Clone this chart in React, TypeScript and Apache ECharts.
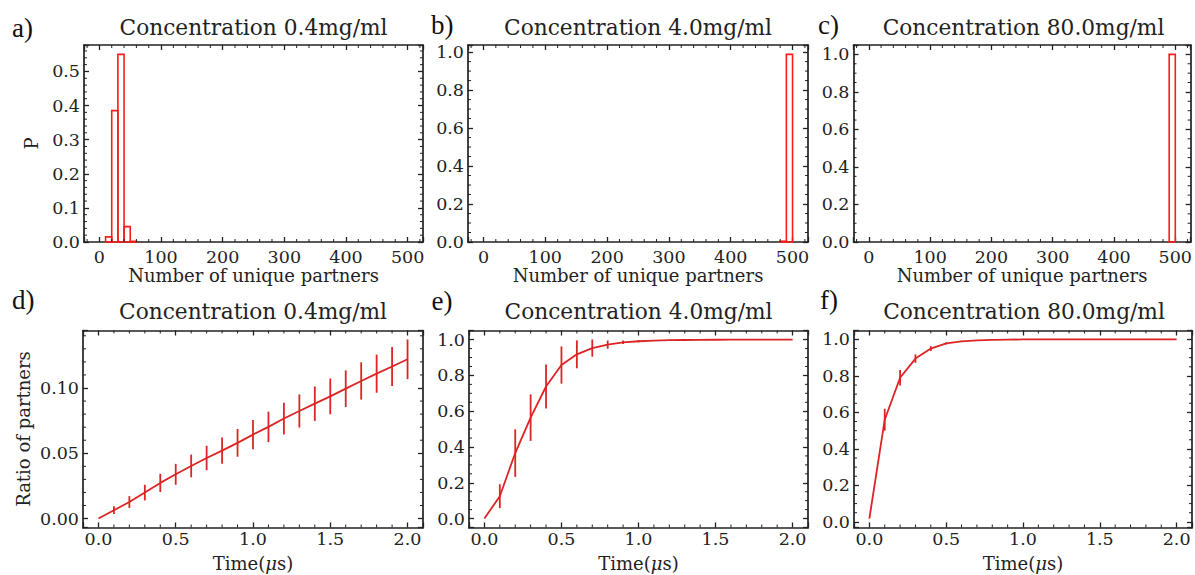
import React, { useEffect, useRef } from "react";
import * as echarts from "echarts";

// ---------- data ----------
const BIN_WIDTH = 10;
const HIST_LEFT_A = [10, 20, 30, 40, 50];
const HIST_P_A = [0.015, 0.385, 0.55, 0.045, 0.002];
const HIST_LEFT_B = [480, 490];
const HIST_P_B = [0.004, 0.988];
const HIST_LEFT_C = [490];
const HIST_P_C = [1.0];

const TIME = [0, 0.1, 0.2, 0.3, 0.4, 0.5, 0.6, 0.7, 0.8, 0.9, 1.0, 1.1, 1.2, 1.3, 1.4, 1.5, 1.6, 1.7, 1.8, 1.9, 2.0];
const RATIO_D = [0, 0.0064, 0.0127, 0.0199, 0.0273, 0.0339, 0.0403, 0.0464, 0.052, 0.058, 0.0643, 0.0702, 0.0766, 0.0824, 0.088, 0.0936, 0.0995, 0.1054, 0.111, 0.1165, 0.122];
const ERR_D = [0, 0.003, 0.0045, 0.006, 0.007, 0.008, 0.0087, 0.0094, 0.01, 0.0106, 0.0112, 0.0117, 0.0122, 0.0127, 0.0132, 0.0137, 0.014, 0.0143, 0.0146, 0.0149, 0.0152];
const RATIO_E = [0, 0.125, 0.366, 0.564, 0.738, 0.858, 0.918, 0.953, 0.972, 0.985, 0.991, 0.995, 0.997, 0.998, 0.999, 0.9993, 0.9996, 0.9998, 0.9999, 1.0, 1.0];
const ERR_E = [0, 0.067, 0.133, 0.13, 0.123, 0.104, 0.078, 0.048, 0.023, 0.01, 0.006, 0.003, 0.002, 0.001, 0.001, 0, 0, 0, 0, 0, 0];
const RATIO_F = [0.018, 0.56, 0.79, 0.895, 0.95, 0.978, 0.99, 0.995, 0.998, 0.999, 1.0, 1.0, 1.0, 1.0, 1.0, 1.0, 1.0, 1.0, 1.0, 1.0, 1.0];
const ERR_F = [0, 0.06, 0.043, 0.023, 0.013, 0.006, 0.003, 0.002, 0.001, 0, 0, 0, 0, 0, 0, 0, 0, 0, 0, 0, 0];

const TITLES = ["Concentration 0.4mg/ml", "Concentration 4.0mg/ml", "Concentration 80.0mg/ml", "Concentration 0.4mg/ml", "Concentration 4.0mg/ml", "Concentration 80.0mg/ml"];
const LETTERS = ["a)", "b)", "c)", "d)", "e)", "f)"];
const X_NAME_TOP = "Number of unique partners";
const X_NAME_BOTTOM = "Time({mu|μ}s)";
const Y_NAME_A = "P";
const Y_NAME_D = "Ratio of partners";

// ---------- style / layout ----------
const SERIF = "'DejaVu Serif', serif";
const TEXT = "#222";
const FRAME = "#222";
const HIST_RED = "#ff1a1a";
const LINE_RED = "#dc2424";
const TICK_FS = 17.5;
const NAME_FS = 18;
const TITLE_FS = 21.7;

const GRIDS = [
  { left: 84, top: 45, width: 339, height: 197 },
  { left: 468, top: 45, width: 340, height: 197 },
  { left: 853.5, top: 45, width: 340, height: 197 },
  { left: 83, top: 330.5, width: 340, height: 197 },
  { left: 469, top: 330.5, width: 339, height: 197 },
  { left: 854, top: 330.5, width: 340, height: 197 },
];
const LETTER_POS = [
  [12, 28], [431, 25], [818, 25], [12, 300], [431.5, 301], [820, 300],
];

function padRange(lo: number, hi: number) {
  const d = hi - lo;
  return [lo - 0.05 * d, hi + 0.05 * d];
}

function isMult(v: number, step: number) {
  const r = v / step;
  return Math.abs(r - Math.round(r)) < 1e-6;
}

function valueAxis(opts: any) {
  const { pos, gridIndex, min, max, step, decimals, showLabel, name, nameGap, margin } = opts;
  return {
    type: "value",
    gridIndex,
    position: pos,
    min,
    max,
    minInterval: step,
    maxInterval: step,
    splitNumber: Math.max(1, Math.round((max - min) / step)),
    axisLine: { show: true, onZero: false, lineStyle: { color: FRAME, width: 1.7 } },
    axisTick: { show: true, inside: true, length: 5, lineStyle: { color: FRAME, width: 1.3 } },
    minorTick: { show: false },
    splitLine: { show: false },
    axisLabel: {
      show: !!showLabel,
      margin: margin ?? 6,
      fontFamily: SERIF,
      fontSize: TICK_FS,
      color: TEXT,
      formatter: (v: number) => {
        if (!isMult(v, step)) return "";
        const vv = Math.abs(v) < 1e-9 ? 0 : v;
        return vv.toFixed(decimals);
      },
    },
    name: name ?? "",
    nameLocation: "middle",
    nameGap: nameGap ?? 20,
    nameTextStyle: {
      fontFamily: SERIF,
      fontSize: NAME_FS,
      color: TEXT,
      rich: { mu: { fontFamily: SERIF, fontSize: NAME_FS, fontStyle: "italic", color: TEXT } },
    },
  };
}

function minorValues(min: number, max: number, minor: number, major: number) {
  const out: number[] = [];
  const start = Math.ceil(min / minor - 1e-9);
  const end = Math.floor(max / minor + 1e-9);
  for (let k = start; k <= end; k++) {
    const v = k * minor;
    if (v <= min + 1e-9 || v >= max - 1e-9) continue;
    if (isMult(v, major)) continue;
    out.push(v);
  }
  return out;
}

function minorSeries(i: number, xs: number[], ys: number[]) {
  const data = [...xs.map((v) => [v, 0, 0]), ...ys.map((v) => [0, v, 1])];
  return {
    type: "custom",
    xAxisIndex: 2 * i,
    yAxisIndex: 2 * i,
    silent: true,
    clip: false,
    z: 5,
    data,
    encode: { x: 0, y: 1 },
    renderItem: (params: any, api: any) => {
      const cs = params.coordSys;
      const kind = api.value(2);
      const st = { stroke: FRAME, lineWidth: 1 };
      const L = 3;
      if (kind === 0) {
        const px = api.coord([api.value(0), api.value(1)])[0];
        return {
          type: "group",
          children: [
            { type: "line", shape: { x1: px, y1: cs.y + cs.height, x2: px, y2: cs.y + cs.height - L }, style: st },
            { type: "line", shape: { x1: px, y1: cs.y, x2: px, y2: cs.y + L }, style: st },
          ],
        };
      }
      const py = api.coord([api.value(0), api.value(1)])[1];
      return {
        type: "group",
        children: [
          { type: "line", shape: { x1: cs.x, y1: py, x2: cs.x + L, y2: py }, style: st },
          { type: "line", shape: { x1: cs.x + cs.width, y1: py, x2: cs.x + cs.width - L, y2: py }, style: st },
        ],
      };
    },
  };
}

function histSeries(i: number, lefts: number[], ps: number[]) {
  return {
    type: "custom",
    xAxisIndex: 2 * i,
    yAxisIndex: 2 * i,
    z: 3,
    data: lefts.map((l, k) => [l, l + BIN_WIDTH, ps[k]]),
    encode: { x: [0, 1], y: 2 },
    renderItem: (params: any, api: any) => {
      const a = api.coord([api.value(0), 0]);
      const b = api.coord([api.value(1), api.value(2)]);
      return {
        type: "rect",
        shape: { x: a[0], y: b[1], width: b[0] - a[0], height: a[1] - b[1] },
        style: { fill: "none", stroke: HIST_RED, lineWidth: 1.6 },
      };
    },
  };
}

function lineSeries(i: number, vals: number[]) {
  return {
    type: "line",
    xAxisIndex: 2 * i,
    yAxisIndex: 2 * i,
    data: TIME.map((t, k) => [t, vals[k]]),
    showSymbol: false,
    symbol: "none",
    clip: false,
    z: 3,
    lineStyle: { color: LINE_RED, width: 1.8 },
  };
}

function errSeries(i: number, vals: number[], errs: number[]) {
  const data: number[][] = [];
  TIME.forEach((t, k) => {
    if (errs[k] > 0) data.push([t, vals[k] - errs[k], vals[k] + errs[k]]);
  });
  return {
    type: "custom",
    xAxisIndex: 2 * i,
    yAxisIndex: 2 * i,
    z: 4,
    clip: false,
    data,
    encode: { x: 0, y: [1, 2] },
    renderItem: (params: any, api: any) => {
      const a = api.coord([api.value(0), api.value(1)]);
      const b = api.coord([api.value(0), api.value(2)]);
      return {
        type: "line",
        shape: { x1: a[0], y1: a[1], x2: b[0], y2: b[1] },
        style: { stroke: LINE_RED, lineWidth: 1.8 },
      };
    },
  };
}

function buildOption() {
  const xAxis: any[] = [];
  const yAxis: any[] = [];
  const series: any[] = [];
  const graphic: any[] = [];

  const histX = [-25, 525];
  const histY = [
    [0, Math.max(...HIST_P_A) * 1.05],
    [0, Math.max(...HIST_P_B) * 1.05],
    [0, Math.max(...HIST_P_C) * 1.05],
  ];
  const histYStep = [0.1, 0.2, 0.2];
  const histYMinor = [0.02, 0.05, 0.05];

  for (let i = 0; i < 3; i++) {
    const [y0, y1] = histY[i];
    xAxis.push(valueAxis({ pos: "bottom", gridIndex: i, min: histX[0], max: histX[1], step: 100, decimals: 0, showLabel: true, name: X_NAME_TOP, nameGap: 21, margin: 6 }));
    xAxis.push(valueAxis({ pos: "top", gridIndex: i, min: histX[0], max: histX[1], step: 100, decimals: 0, showLabel: false }));
    yAxis.push(valueAxis({ pos: "left", gridIndex: i, min: y0, max: y1, step: histYStep[i], decimals: 1, showLabel: true, margin: 4, name: i === 0 ? Y_NAME_A : "", nameGap: 44 }));
    yAxis.push(valueAxis({ pos: "right", gridIndex: i, min: y0, max: y1, step: histYStep[i], decimals: 1, showLabel: false }));
    series.push(minorSeries(i, minorValues(histX[0], histX[1], 20, 100), minorValues(y0, y1, histYMinor[i], histYStep[i])));
  }
  series.push(histSeries(0, HIST_LEFT_A, HIST_P_A));
  series.push(histSeries(1, HIST_LEFT_B, HIST_P_B));
  series.push(histSeries(2, HIST_LEFT_C, HIST_P_C));

  const bottomSets = [
    { vals: RATIO_D, errs: ERR_D, step: 0.05, minor: 0.01, dec: 2 },
    { vals: RATIO_E, errs: ERR_E, step: 0.2, minor: 0.05, dec: 1 },
    { vals: RATIO_F, errs: ERR_F, step: 0.2, minor: 0.05, dec: 1 },
  ];
  const tx = padRange(Math.min(...TIME), Math.max(...TIME));
  bottomSets.forEach((s, j) => {
    const i = j + 3;
    const lo = Math.min(...s.vals.map((v, k) => v - s.errs[k]));
    const hi = Math.max(...s.vals.map((v, k) => v + s.errs[k]));
    const [y0, y1] = padRange(lo, hi);
    xAxis.push(valueAxis({ pos: "bottom", gridIndex: i, min: tx[0], max: tx[1], step: 0.5, decimals: 1, showLabel: true, name: X_NAME_BOTTOM, nameGap: 27, margin: 2 }));
    xAxis.push(valueAxis({ pos: "top", gridIndex: i, min: tx[0], max: tx[1], step: 0.5, decimals: 1, showLabel: false }));
    yAxis.push(valueAxis({ pos: "left", gridIndex: i, min: y0, max: y1, step: s.step, decimals: s.dec, showLabel: true, margin: 4, name: j === 0 ? Y_NAME_D : "", nameGap: 51 }));
    yAxis.push(valueAxis({ pos: "right", gridIndex: i, min: y0, max: y1, step: s.step, decimals: s.dec, showLabel: false }));
    series.push(minorSeries(i, minorValues(tx[0], tx[1], 0.1, 0.5), minorValues(y0, y1, s.minor, s.step)));
    series.push(lineSeries(i, s.vals));
    series.push(errSeries(i, s.vals, s.errs));
  });

  GRIDS.forEach((g, i) => {
    graphic.push({
      type: "text",
      x: g.left + g.width / 2,
      y: i < 3 ? 27 : 311.5,
      style: { text: TITLES[i], font: `${TITLE_FS}px ${SERIF}`, fill: TEXT, textAlign: "center", textVerticalAlign: "middle" },
    });
    graphic.push({
      type: "text",
      x: LETTER_POS[i][0],
      y: LETTER_POS[i][1],
      style: { text: LETTERS[i], font: `27px 'Liberation Serif', serif`, fill: "#111", textAlign: "left", textVerticalAlign: "middle" },
    });
  });

  return {
    animation: false,
    backgroundColor: "#ffffff",
    grid: GRIDS.map((g) => ({ ...g, containLabel: false })),
    xAxis,
    yAxis,
    series,
    graphic,
  };
}

export default function App() {
  const ref = useRef<HTMLDivElement>(null);
  useEffect(() => {
    if (!ref.current) return;
    const chart = echarts.init(ref.current, undefined, { renderer: "svg" });
    chart.setOption(buildOption() as any);
    return () => chart.dispose();
  }, []);
  return (
    <div
      ref={ref}
      style={{ position: "fixed", left: 0, top: 0, width: 1195, height: 575, background: "#fff" }}
    />
  );
}
